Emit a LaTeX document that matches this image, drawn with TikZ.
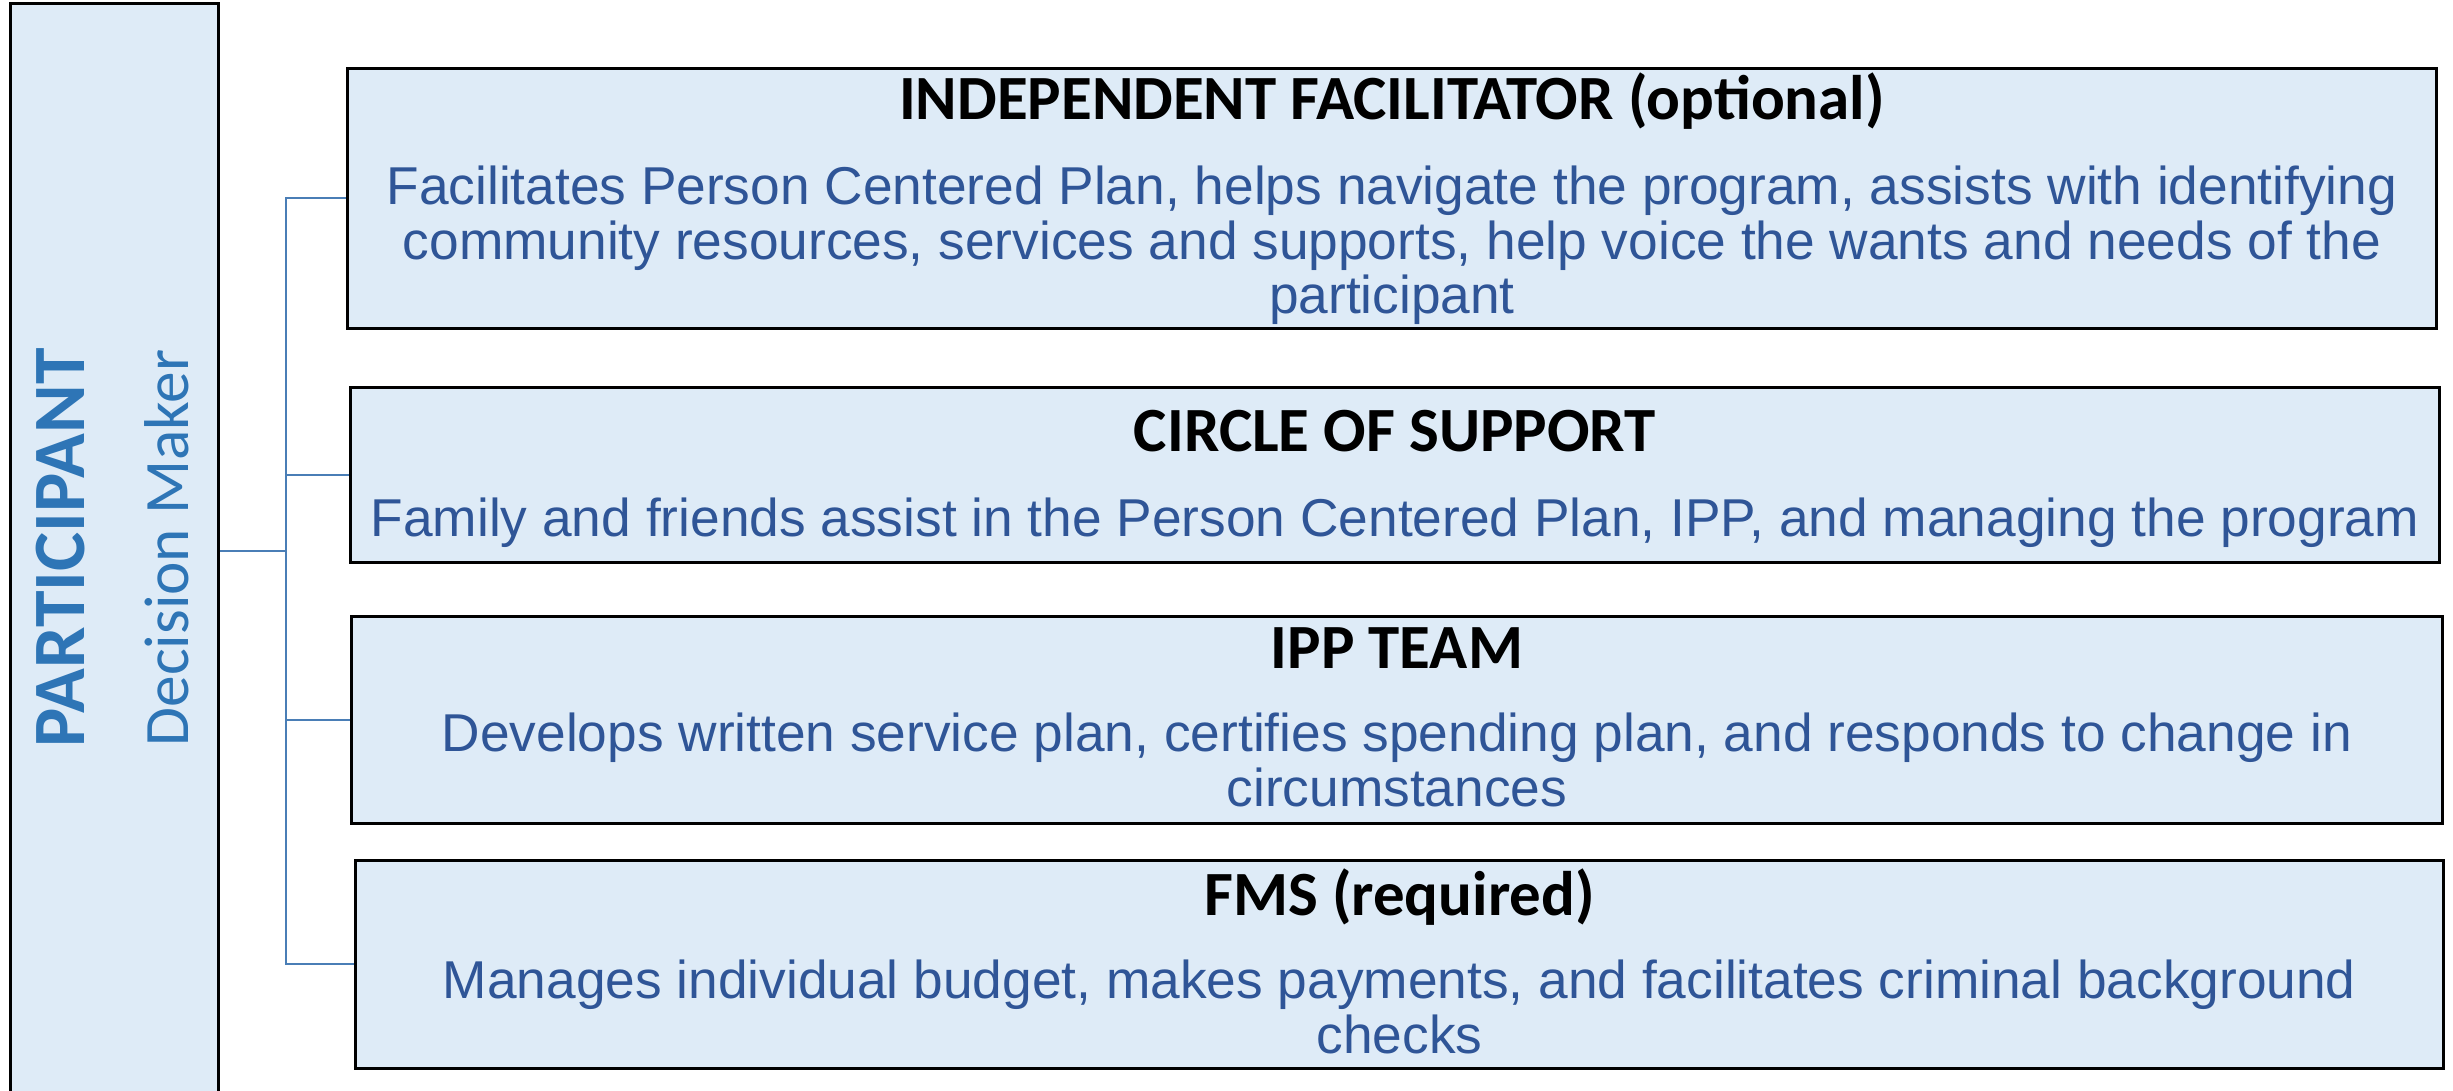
\documentclass[tikz,border=0pt]{standalone}
\usepackage{fontspec}
\setmainfont{Liberation Sans}
\newfontfamily\headfont{Carlito}
\usetikzlibrary{positioning}

\definecolor{boxfill}{RGB}{222,235,247}
\definecolor{rolewords}{RGB}{47,85,151}
\definecolor{partblue}{RGB}{46,117,182}
\definecolor{linkblue}{RGB}{74,126,182}

\tikzset{
  rolebox/.style={draw=black, line width=0.75pt, fill=boxfill, anchor=north west,
    inner sep=0pt, minimum width=20.88cm},
  roletitle/.style={anchor=base, inner sep=0pt, text=black,
    font=\headfont\bfseries\fontsize{17.9}{20}\selectfont},
  roletext/.style={anchor=base, align=center, inner sep=0pt, text=rolewords,
    font=\fontsize{15.15}{15.6}\selectfont},
  link/.style={draw=linkblue, line width=0.6pt}
}

\begin{document}
\begin{tikzpicture}[x=0.01cm,y=-0.01cm]

\useasboundingbox (0,0) rectangle (2453,1091);
\clip (0,0) rectangle (2453,1091);

% Participant column
\node[rolebox, minimum width=2.08cm, minimum height=10.94cm] (part) at (9,2) {};
\node[rotate=90, anchor=base, text=partblue,
  font=\headfont\bfseries\fontsize{21}{24}\selectfont] (partname) at (84,548) {PARTICIPANT};
\node[rotate=90, anchor=base, text=partblue,
  font=\headfont\fontsize{18}{20}\selectfont] (partrole) at (189,548) {Decision Maker};

% Role boxes
\node[rolebox, minimum height=2.60cm] (ifac) at (346,67) {};
\node[rolebox, minimum height=1.75cm] (circle) at (349,386) {};
\node[rolebox, minimum height=2.07cm, minimum width=20.90cm] (ipp) at (350,615) {};
\node[rolebox, minimum height=2.08cm, minimum width=20.87cm] (fms) at (354,859) {};

% Titles
\node[roletitle] (ifacT) at (ifac.north |- 0,120) {INDEPENDENT FACILITATOR (optional)};
\node[roletitle] (circleT) at (circle.north |- 0,452) {CIRCLE OF SUPPORT};
\node[roletitle] (ippT) at (ipp.north |- 0,669) {IPP TEAM};
\node[roletitle] (fmsT) at (fms.north |- 0,915) {FMS (required)};

% Descriptions (base = last line)
\node[roletext] (ifacB) at (ifac.north |- 0,314) {Facilitates Person Centered Plan, helps navigate the program, assists with identifying\\
  community resources, services and supports, help voice the wants and needs of the\\
  participant};
\node[roletext] (circleB) at (circle.north |- 0,537) {Family and friends assist in the Person Centered Plan, IPP, and managing the program};
\node[roletext] (ippB) at (ipp.north |- 0,806) {Develops written service plan, certifies spending plan, and responds to change in\\
  circumstances};
\node[roletext] (fmsB) at (fms.north |- 0,1053) {Manages individual budget, makes payments, and facilitates criminal background\\
  checks};

% Links
\draw[link] (part.east) -- ++(66,0) coordinate (hub);
\draw[link] (hub) |- (ifac.west);
\draw[link] (hub) |- (circle.west);
\draw[link] (hub) |- (ipp.west);
\draw[link] (hub) |- (fms.west);

\end{tikzpicture}
\end{document}
